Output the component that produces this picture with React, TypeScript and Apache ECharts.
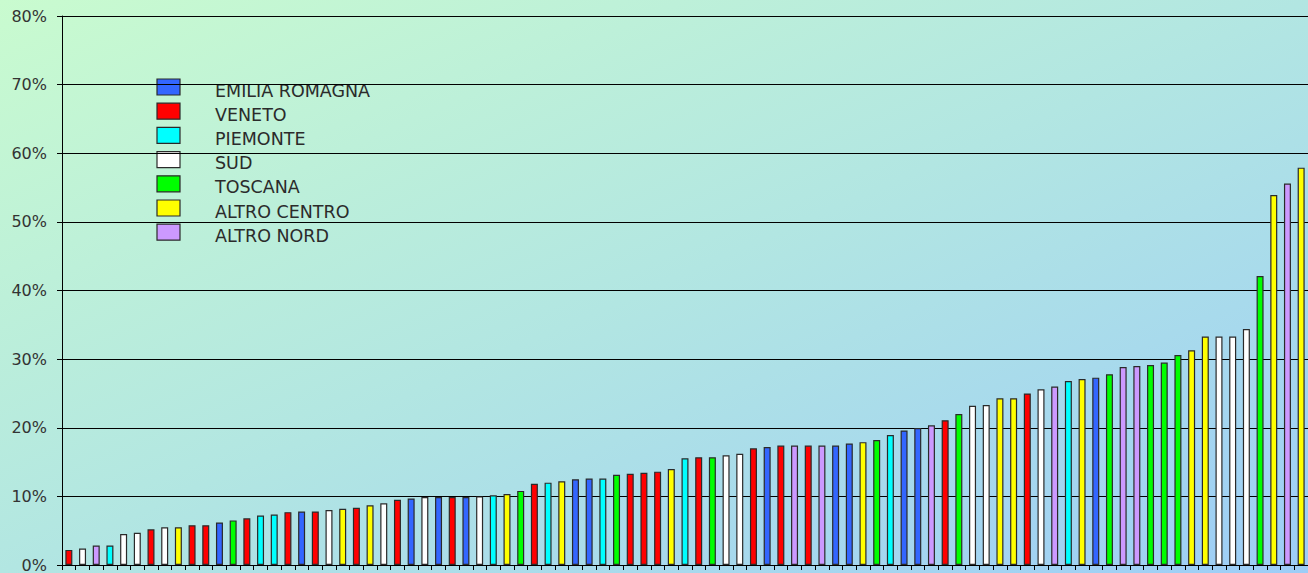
import React, { useEffect, useRef } from "react";
import * as echarts from "echarts";

const legendNames = [
  "EMILIA ROMAGNA",
  "VENETO",
  "PIEMONTE",
  "SUD",
  "TOSCANA",
  "ALTRO CENTRO",
  "ALTRO NORD",
];
const legendColors = ["#3366ff", "#ff0000", "#00ffff", "#ffffff", "#00ff00", "#ffff00", "#cc99ff"];

// percent values, in display order
const values = [
  2.2, 2.4, 2.85, 2.85, 4.5, 4.7, 5.2, 5.5, 5.5, 5.8, 5.8, 6.2, 6.5, 6.8, 7.2,
  7.35, 7.7, 7.8, 7.8, 8.0, 8.2, 8.35, 8.7, 9.0, 9.5, 9.7, 9.9, 9.9, 9.9, 9.9,
  10.0, 10.15, 10.35, 10.8, 11.85, 12.0, 12.2, 12.5, 12.6, 12.6, 13.15, 13.3, 13.45, 13.6, 14.0,
  15.55, 15.7, 15.7, 16.0, 16.2, 17.0, 17.2, 17.4, 17.4, 17.4, 17.4, 17.4, 17.7, 17.9, 18.2,
  18.95, 19.6, 19.95, 20.35, 21.1, 22.0, 23.2, 23.3, 24.3, 24.3, 25.0, 25.6, 26.0, 26.8, 27.1,
  27.3, 27.8, 28.85, 29.0, 29.15, 29.5, 30.6, 31.3, 33.3, 33.3, 33.3, 34.4, 42.1, 53.9, 55.6, 57.9,
];

// region codes: E=EMILIA ROMAGNA V=VENETO P=PIEMONTE S=SUD T=TOSCANA C=ALTRO CENTRO N=ALTRO NORD
const regions = [
  "V", "S", "N", "P", "S", "S", "V", "S", "C", "V", "V", "E", "T", "V", "P",
  "P", "V", "E", "V", "S", "C", "V", "C", "S", "V", "E", "S", "E", "V", "E",
  "S", "P", "C", "T", "V", "P", "C", "E", "E", "P", "T", "V", "V", "V", "C",
  "P", "V", "T", "S", "S", "V", "E", "V", "N", "V", "N", "E", "E", "C", "T",
  "P", "E", "E", "N", "V", "T", "S", "S", "C", "C", "V", "S", "N", "P", "C",
  "E", "T", "N", "N", "T", "T", "T", "C", "C", "S", "S", "S", "T", "C", "N", "C",
];
const regionCodes = ["E", "V", "P", "S", "T", "C", "N"];

const yTicks = { min: 0, max: 80, interval: 10 };

export default function App() {
  const ref = useRef<HTMLDivElement>(null);
  useEffect(() => {
    if (!ref.current) return;
    const chart = echarts.init(ref.current, undefined, { renderer: "svg" });
    const categories = values.map((_, i) => String(i + 1));
    const series = legendNames.map((name, k) => ({
      name,
      type: "bar",
      barWidth: 7,
      barGap: "-100%",
      data: values.map((v, i) => (regions[i] === regionCodes[k] ? v : "-")),
      itemStyle: { color: legendColors[k], borderColor: "#2a2a2a", borderWidth: 1.2 },
      emphasis: { disabled: true },
    }));
    const legendGraphics: any[] = [];
    legendNames.forEach((name, k) => {
      const y0 = 79 + k * 24.2;
      legendGraphics.push({
        type: "rect",
        shape: { x: 157, y: y0, width: 23, height: 16 },
        style: { fill: legendColors[k], stroke: "#2a2a2a", lineWidth: 1.2 },
        silent: true,
      });
      legendGraphics.push({
        type: "text",
        x: 215,
        y: y0 + 11.5,
        style: {
          text: name,
          fill: "#2b2b2b",
          font: "17.5px 'DejaVu Sans'",
          verticalAlign: "middle",
          align: "left",
        },
        silent: true,
      });
    });
    chart.setOption({
      animation: false,
      backgroundColor: "transparent",
      grid: { left: 62, right: 0, top: 16, bottom: 8, containLabel: false },
      legend: { show: false, data: legendNames },
      graphic: legendGraphics,
      xAxis: {
        type: "category",
        data: categories,
        boundaryGap: true,
        axisLine: { show: true, lineStyle: { color: "#000", width: 1 } },
        axisTick: { show: true, interval: 0, length: 5, lineStyle: { color: "#000" } },
        axisLabel: { show: false },
        splitLine: { show: false },
      },
      yAxis: {
        type: "value",
        min: yTicks.min,
        max: yTicks.max,
        interval: yTicks.interval,
        axisLine: { show: true, lineStyle: { color: "#000", width: 1 } },
        axisTick: { show: true, length: 5, lineStyle: { color: "#000" } },
        axisLabel: {
          formatter: "{value}%",
          fontFamily: "DejaVu Sans",
          fontSize: 16,
          color: "#333",
          margin: 15,
        },
        splitLine: { show: true, lineStyle: { color: "#000", width: 1 } },
      },
      series,
    });
    return () => chart.dispose();
  }, []);
  return (
    <div
      ref={ref}
      style={{
        position: "fixed",
        left: 0,
        top: 0,
        width: 1308,
        height: 573,
        background: "linear-gradient(to bottom right, #c9fbcf 0%, #b2e6e2 50%, #9dcdf7 100%)",
      }}
    />
  );
}
